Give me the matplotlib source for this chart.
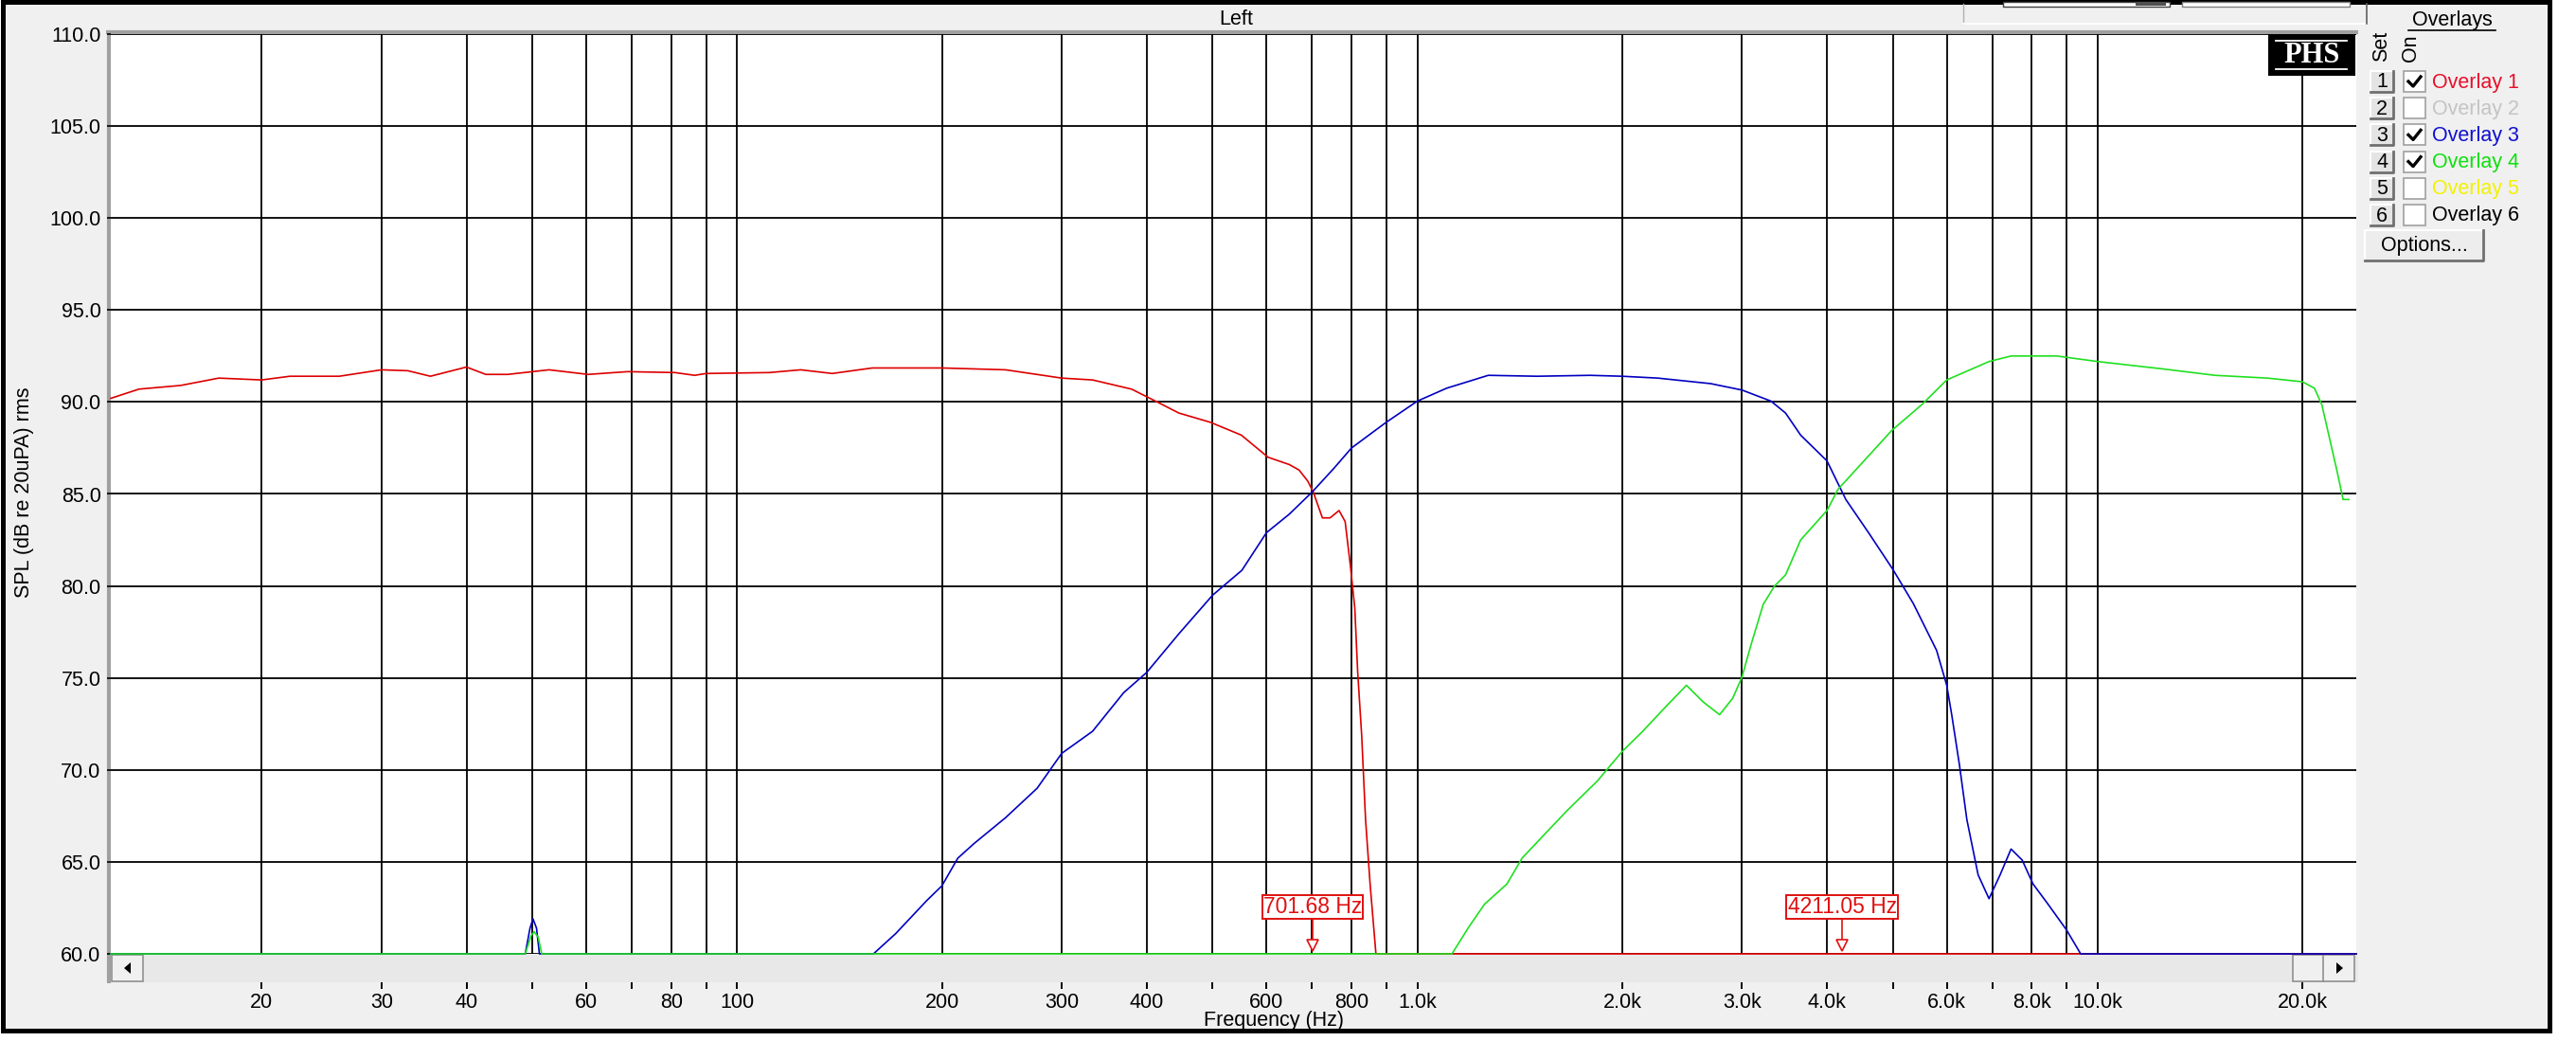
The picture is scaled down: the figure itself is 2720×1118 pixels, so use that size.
import numpy as np
import matplotlib
matplotlib.use("Agg")
import matplotlib.pyplot as plt
from matplotlib.patches import Rectangle, Polygon
from matplotlib.ticker import FixedLocator, FixedFormatter

plt.rcParams['font.family'] = ['Liberation Sans', 'DejaVu Sans']
FS = 15.5
W, H = 2720, 1118

# ---- data ----
red_f = [12, 13.2, 15.2, 17.3, 20, 22, 26, 30, 32.8, 35.4, 40, 42.7, 46, 52.9, 60.4, 69, 81,
         86.6, 90, 111.5, 124, 138, 158, 200, 248, 300, 333, 380, 412, 446, 496, 551, 603,
         648, 670, 690, 703, 725, 744, 767, 783, 797, 809, 817, 828, 839, 852, 869, 24000]
red_db = [90.2, 90.7, 90.9, 91.3, 91.2, 91.4, 91.4, 91.75, 91.7, 91.4, 91.9, 91.5, 91.5, 91.75,
          91.5, 91.65, 91.6, 91.45, 91.55, 91.6, 91.75, 91.55, 91.85, 91.85, 91.75, 91.3, 91.2,
          90.7, 90.05, 89.4, 88.9, 88.2, 87.0, 86.6, 86.3, 85.7, 85.1, 83.7, 83.7, 84.1, 83.5,
          81.1, 78.8, 75.3, 71.9, 67.3, 63.8, 60.0, 60.0]

blue_f = [12, 48.8, 49.6, 50.1, 50.7, 51.2, 158.6, 171, 190, 200, 211, 223, 248, 276, 300, 333,
          370, 400, 446, 500, 552, 600, 648, 700, 754, 800, 900, 1000, 1104, 1271, 1500, 1794,
          2000, 2256, 2698, 3000, 3309, 3477, 3659, 4000, 4264, 4604, 5000, 5357, 5797, 6000,
          6102, 6262, 6423, 6672, 6923, 7189, 7459, 7745, 8035, 8454, 9000, 9442, 24000]
blue_db = [60, 60, 61.4, 61.9, 61.4, 60, 60, 61.1, 62.9, 63.7, 65.2, 66.0, 67.4, 69.0, 70.9, 72.1,
           74.2, 75.3, 77.4, 79.5, 80.85, 82.9, 83.9, 85.1, 86.4, 87.5, 88.9, 90.05, 90.75, 91.45,
           91.4, 91.45, 91.4, 91.3, 91.0, 90.65, 90.05, 89.4, 88.2, 86.8, 84.7, 82.9, 80.9, 79.05,
           76.5, 74.6, 73.0, 70.3, 67.3, 64.3, 63.0, 64.3, 65.7, 65.1, 63.8, 62.7, 61.3, 60, 60]

green_f = [12, 48.8, 49.8, 50.3, 51.0, 51.6, 1124, 1192, 1255, 1354, 1425, 1538, 1661, 1839, 2000,
           2144, 2313, 2486, 2630, 2781, 2908, 3000, 3099, 3224, 3350, 3477, 3659, 4000, 4152,
           4483, 4980, 5512, 6000, 6923, 7459, 8710, 10000, 12460, 14880, 17770, 20000, 20830,
           21360, 21930, 22500, 22950, 23400]
green_db = [60, 60, 61.0, 61.2, 60.9, 60, 60, 61.5, 62.7, 63.8, 65.2, 66.5, 67.8, 69.4, 71.0,
            72.1, 73.4, 74.6, 73.7, 73.0, 73.9, 75.05, 76.9, 79.0, 80.0, 80.6, 82.5, 84.1, 85.25,
            86.6, 88.45, 89.85, 91.2, 92.2, 92.5, 92.5, 92.2, 91.8, 91.45, 91.3, 91.1, 90.75,
            89.85, 88.0, 86.2, 84.7, 84.7]

marker_f = [701.68, 4211.05]
marker_txt = ["701.68 Hz", "4211.05 Hz"]

grid_f = [20, 30, 40, 50, 60, 70, 80, 90, 100, 200, 300, 400, 500, 600, 700, 800, 900,
          1000, 2000, 3000, 4000, 5000, 6000, 7000, 8000, 9000, 10000, 20000]
grid_lbl = ['20', '30', '40', '', '60', '', '80', '', '100', '200', '300', '400', '', '600', '',
            '800', '', '1.0k', '2.0k', '3.0k', '4.0k', '', '6.0k', '', '8.0k', '', '10.0k', '20.0k']
y_ticks = [60, 65, 70, 75, 80, 85, 90, 95, 100, 105, 110]

overlay_names = ["Overlay 1", "Overlay 2", "Overlay 3", "Overlay 4", "Overlay 5", "Overlay 6"]
overlay_cols = ['#E8102A', '#C4C4C4', '#1010D0', '#10E010', '#F2F200', '#000000']
overlay_on = [True, False, True, True, False, False]

RED, BLUE, GREEN = '#DD0000', '#0000C0', '#20E020'

fig = plt.figure(figsize=(W / 100, H / 100), dpi=100, facecolor='white')

# background / window chrome in pixel coords
bg = fig.add_axes([0, 0, 1, 1], zorder=0)
bg.set_xlim(0, W)
bg.set_ylim(H, 0)
bg.axis('off')
bg.add_patch(Rectangle((3, 2), 2689, 1086, fc='#F0F0F0', ec='black', lw=3.6))
# grey sunken edge of plot
bg.plot([112, 2490], [34, 34], color='#A0A0A0', lw=3, solid_capstyle='butt')
bg.plot([115, 115], [32, 1038], color='#A0A0A0', lw=3, solid_capstyle='butt')
bg.text(1305, 20, "Left", ha='center', va='center', fontsize=FS)

# top-right bits of the toolbar
bg.plot([2073, 2073], [4, 25], color='#B0B0B0', lw=1)
bg.plot([2073, 2499], [25, 25], color='white', lw=1.5)
bg.plot([2499, 2499], [4, 25], color='#606060', lw=1.2)
bg.add_patch(Rectangle((2115, 2), 176, 5, fc='white', ec='#404040', lw=1))
bg.add_patch(Rectangle((2255, 2), 32, 4, fc='#505050', ec='none'))
bg.add_patch(Rectangle((2304, 2), 177, 5, fc='white', ec='#808080', lw=1))

# scrollbar under the plot
bg.add_patch(Rectangle((117, 1008), 2373, 29, fc='#E8E8E8', ec='none'))
for x0 in (118, 2421, 2453):
    bg.add_patch(Rectangle((x0, 1008), 33, 28, fc='#F0F0F0', ec='#909090', lw=1.2))
bg.add_patch(Polygon([(131, 1022), (138, 1016), (138, 1028)], closed=True, fc='black'))
bg.add_patch(Polygon([(2474, 1022), (2467, 1016), (2467, 1028)], closed=True, fc='black'))

bg.text(1345, 1077, "Frequency (Hz)", ha='center', va='center', fontsize=FS)
bg.text(26, 520, "SPL (dB re 20uPA) rms", ha='center', va='center', rotation=90, fontsize=FS)

# overlays panel
bg.text(2589, 21, "Overlays", ha='center', va='center', fontsize=FS)
bg.plot([2543, 2635], [32, 32], color='black', lw=1.2)
bg.text(2515, 49, "Set", ha='center', va='center', rotation=90, fontsize=FS)
bg.text(2545, 51, "On", ha='center', va='center', rotation=90, fontsize=FS)
for i, name in enumerate(overlay_names):
    yc = 86 + i * 28.2
    bg.add_patch(Rectangle((2503, yc - 11), 24, 22, fc='#E4E4E4', ec='none'))
    bg.plot([2503, 2503, 2527], [yc + 11, yc - 11, yc - 11], color='white', lw=1.5)
    bg.plot([2503, 2527, 2527], [yc + 11, yc + 11, yc - 11], color='#707070', lw=2)
    bg.text(2515, yc + 1, str(i + 1), ha='center', va='center', fontsize=FS)
    bg.add_patch(Rectangle((2538, yc - 11), 23, 22, fc='white', ec='#A0A0A0', lw=1.2))
    if overlay_on[i]:
        bg.plot([2543, 2548, 2556], [yc, yc + 5, yc - 5], color='black', lw=2.4)
    bg.text(2568, yc + 1, name, ha='left', va='center', fontsize=FS, color=overlay_cols[i])
bg.add_patch(Rectangle((2497, 243), 125, 32, fc='#EDEDED', ec='none'))
bg.plot([2497, 2497, 2622], [275, 243, 243], color='white', lw=1.5)
bg.plot([2497, 2622, 2622], [275, 275, 243], color='#707070', lw=2)
bg.text(2560, 260, "Options...", ha='center', va='center', fontsize=FS)

# ---- the plot itself ----
ax = fig.add_axes([117 / W, (H - 1007) / H, (2488 - 117) / W, (1007 - 36) / H], zorder=1)
ax.set_xscale('log')
ax.set_xlim(12, 24000)
ax.set_ylim(60, 110)
ax.set_facecolor('white')
for s in ax.spines.values():
    s.set_visible(False)
ax.spines['bottom'].set_position(('outward', 21.5))

ax.xaxis.set_major_locator(FixedLocator(grid_f))
ax.xaxis.set_major_formatter(FixedFormatter(grid_lbl))
ax.xaxis.set_minor_locator(FixedLocator([]))
ax.set_yticks(y_ticks)
ax.set_yticklabels([f"{v:.1f}" for v in y_ticks])
ax.tick_params(axis='x', direction='out', length=5, width=1.4, pad=3, labelsize=FS)
ax.tick_params(axis='y', direction='out', length=3, width=1.2, pad=4.5, labelsize=FS)
ax.grid(True, color='black', lw=1.3)
ax.set_axisbelow(True)

ax.plot(red_f, red_db, color=RED, lw=1.2, clip_on=False, zorder=3)
ax.plot(blue_f, blue_db, color=BLUE, lw=1.2, clip_on=False, zorder=4)
ax.plot(green_f, green_db, color=GREEN, lw=1.2, clip_on=False, zorder=5)

for mf, mt in zip(marker_f, marker_txt):
    ax.plot([mf, mf], [61.9, 60.8], color='#E01010', lw=1.2, zorder=6)
    ax.plot(mf, 60.47, marker='v', ms=9, mfc='white', mec='#E01010', mew=1.2, zorder=6)
    ax.text(mf, 62.55, mt, ha='center', va='center', color='#E01010', fontsize=16.5, zorder=7,
            bbox=dict(boxstyle='square,pad=0.05', fc='white', ec='#E01010', lw=1.4))

# PHS logo on top
fg = fig.add_axes([0, 0, 1, 1], zorder=3)
fg.set_xlim(0, W)
fg.set_ylim(H, 0)
fg.axis('off')
fg.add_patch(Rectangle((2395, 36), 92, 44, fc='black', ec='none'))
fg.plot([2403, 2478], [43, 43], color='white', lw=1.3)
fg.plot([2403, 2478], [73, 73], color='white', lw=1.3)
fg.text(2441, 58.5, "PHS", ha='center', va='center', color='white', fontsize=22,
        family=['Liberation Serif', 'DejaVu Serif'], weight='bold')

fig.savefig('out.png', dpi=100, facecolor='white')
